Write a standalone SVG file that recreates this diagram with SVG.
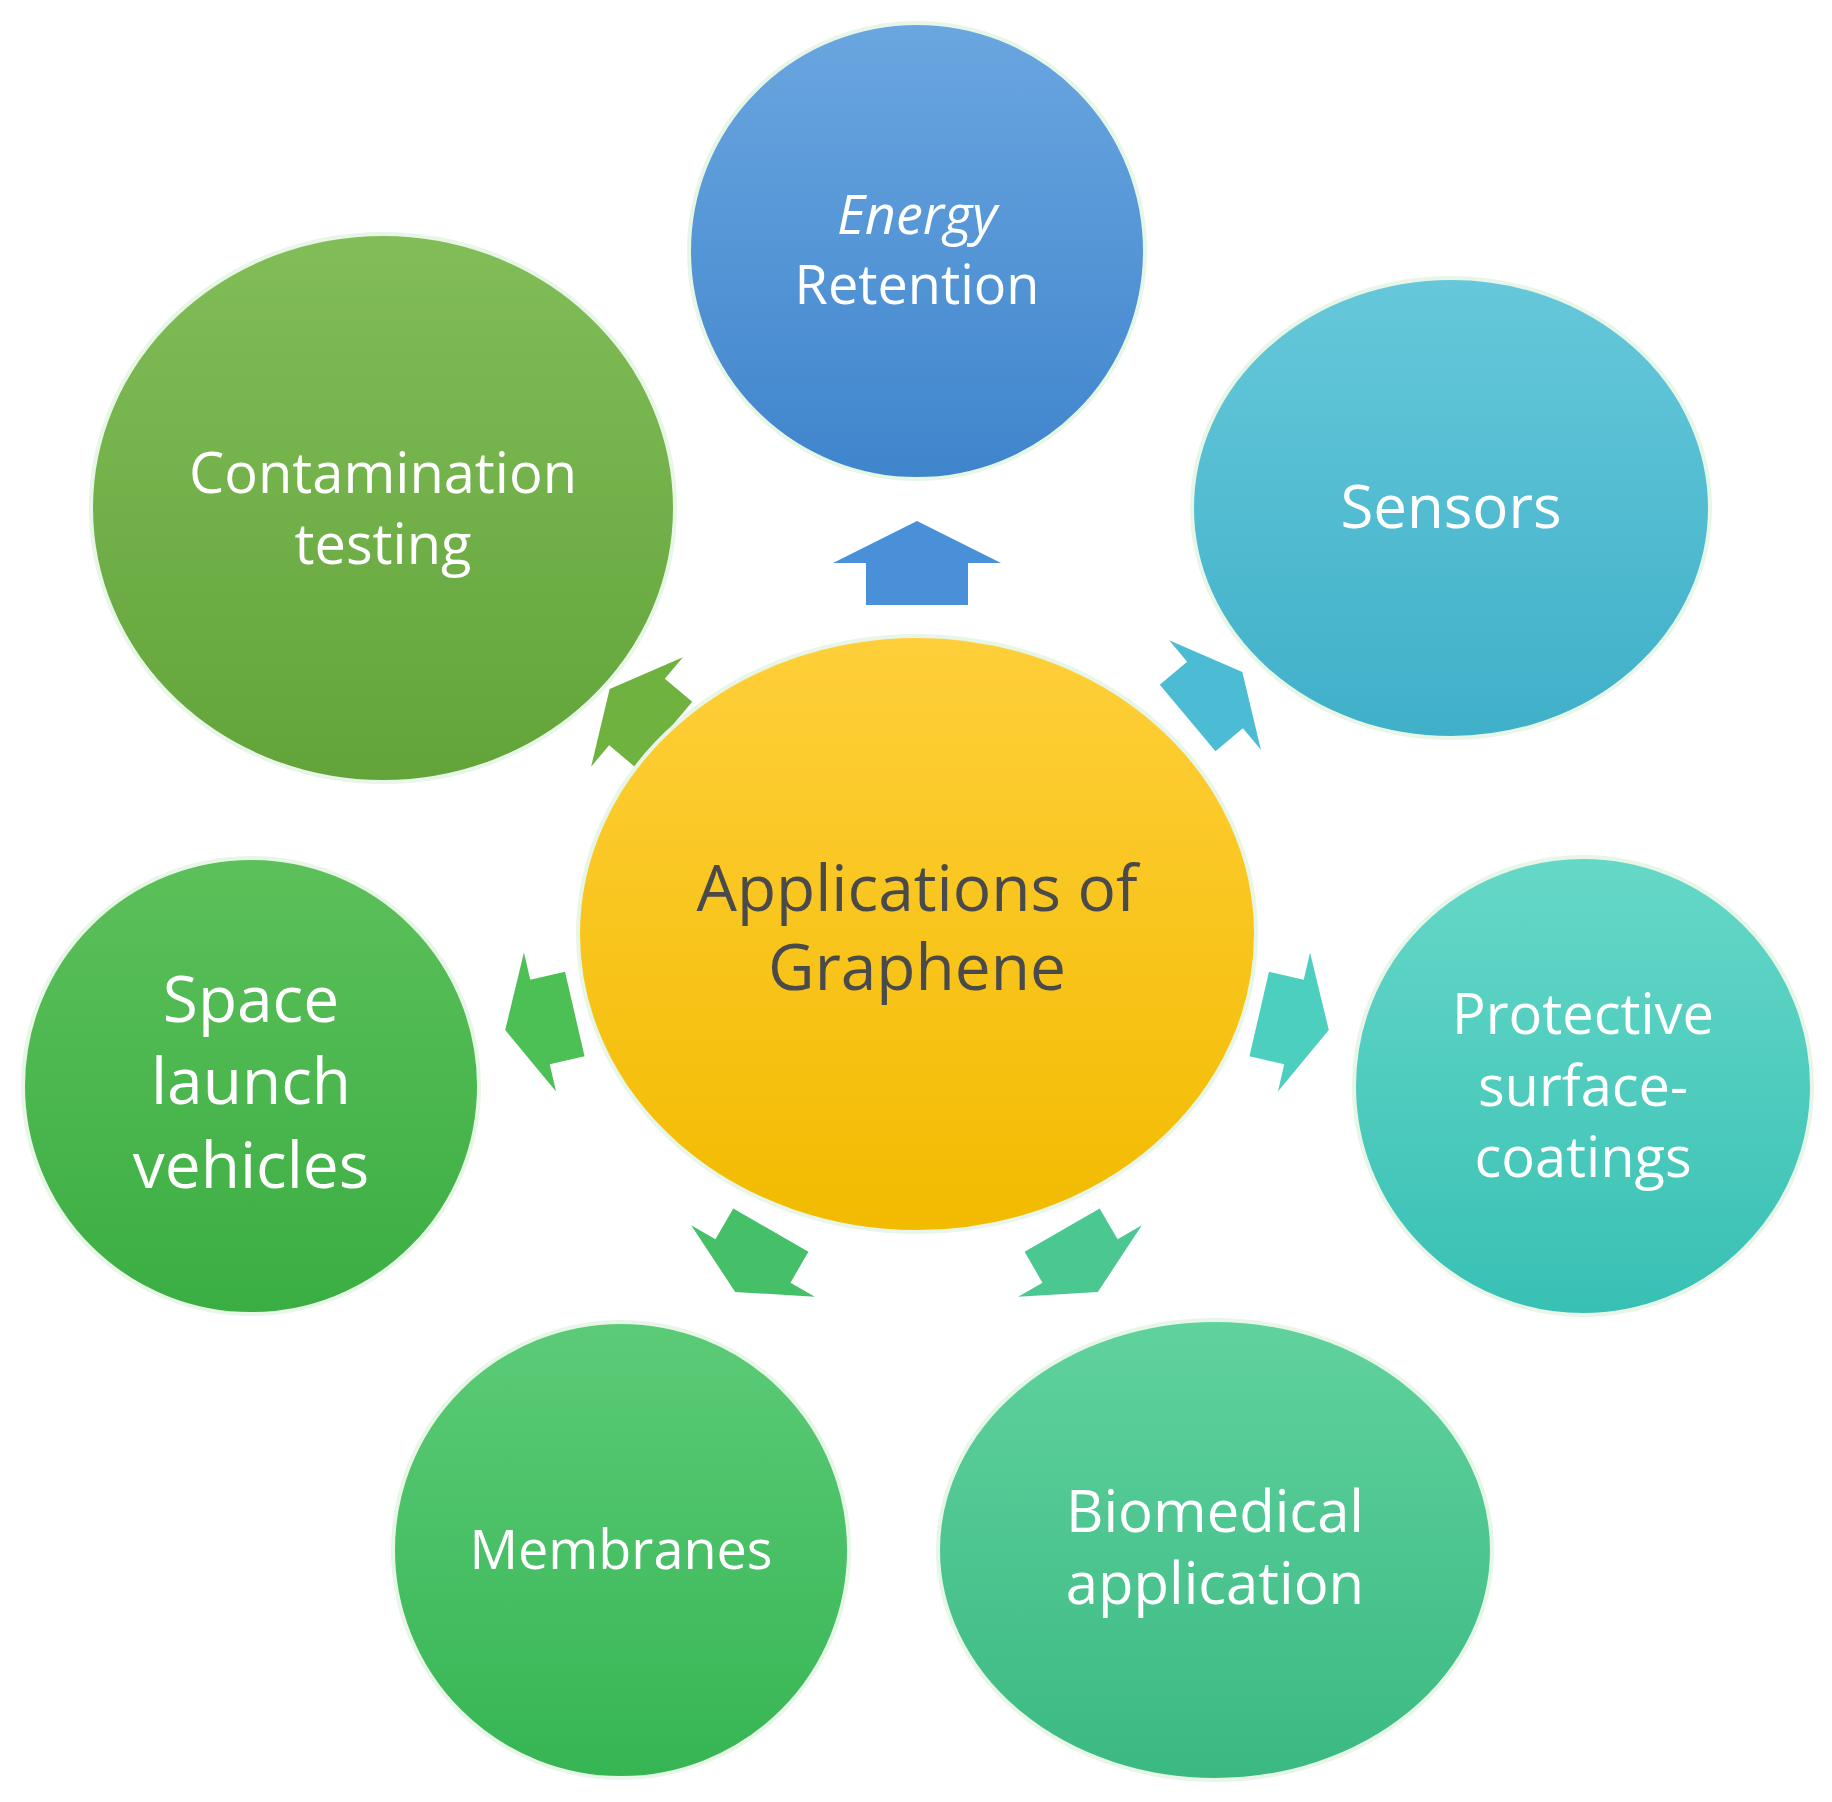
<svg xmlns="http://www.w3.org/2000/svg" width="1832" height="1802" viewBox="0 0 1832 1802">
<defs>
<linearGradient id="gB" x1="0" y1="0" x2="0" y2="1"><stop offset="0" stop-color="#6aa6e0"/><stop offset="1" stop-color="#3f85cc"/></linearGradient>
<linearGradient id="gS" x1="0" y1="0" x2="0" y2="1"><stop offset="0" stop-color="#66c8da"/><stop offset="1" stop-color="#3fb0c9"/></linearGradient>
<linearGradient id="gC" x1="0" y1="0" x2="0" y2="1"><stop offset="0" stop-color="#82bd58"/><stop offset="1" stop-color="#62a43a"/></linearGradient>
<linearGradient id="gY" x1="0" y1="0" x2="0" y2="1"><stop offset="0" stop-color="#ffcf3a"/><stop offset="1" stop-color="#f2bb00"/></linearGradient>
<linearGradient id="gSp" x1="0" y1="0" x2="0" y2="1"><stop offset="0" stop-color="#5dc05a"/><stop offset="1" stop-color="#3aae43"/></linearGradient>
<linearGradient id="gP" x1="0" y1="0" x2="0" y2="1"><stop offset="0" stop-color="#66d8c8"/><stop offset="1" stop-color="#38c0b4"/></linearGradient>
<linearGradient id="gM" x1="0" y1="0" x2="0" y2="1"><stop offset="0" stop-color="#5ccb78"/><stop offset="1" stop-color="#36b553"/></linearGradient>
<linearGradient id="gBi" x1="0" y1="0" x2="0" y2="1"><stop offset="0" stop-color="#60d29e"/><stop offset="1" stop-color="#3bb983"/></linearGradient>
<path id="arr" d="M-42,-51 L0,-51 L0,-84 L42,0 L0,84 L0,51 L-42,51Z"/>
</defs>
<style>
.n{stroke:#e8f6e8;stroke-width:4}
.t{font-family:"Open Sans","Liberation Sans",sans-serif;fill:#ffffff;text-anchor:middle}
.c{fill:#4a4a4a}
</style>
<rect width="1832" height="1802" fill="#ffffff"/>
<g id="connectors">
<use href="#arr" fill="#4a90d9" transform="translate(917,563) rotate(-90)"/>
<use href="#arr" fill="#4cbcd5" transform="translate(1215,695) rotate(-40) scale(0.85)"/>
<use href="#arr" fill="#6fb240" transform="translate(637,712) rotate(-140) scale(0.85)"/>
<use href="#arr" fill="#4cbf55" transform="translate(540,1022) rotate(167) scale(0.85)"/>
<use href="#arr" fill="#4dcfc0" transform="translate(1294,1022) rotate(13) scale(0.85)"/>
<use href="#arr" fill="#45c068" transform="translate(753,1261) rotate(120) scale(0.85)"/>
<use href="#arr" fill="#4bc791" transform="translate(1080,1261) rotate(60) scale(0.85)"/>
</g>
<g id="energy"><circle class="n" cx="917" cy="251" r="228" fill="url(#gB)"/>
<text class="t" x="917" y="234" font-size="54" font-style="italic">Energy</text>
<text class="t" x="917" y="304" font-size="54">Retention</text></g>
<g id="sensors"><ellipse class="n" cx="1451" cy="508" rx="259" ry="230" fill="url(#gS)"/>
<text class="t" x="1451" y="528" font-size="60">Sensors</text></g>
<g id="contamination"><ellipse class="n" cx="383" cy="508" rx="292" ry="274" fill="url(#gC)"/>
<text class="t" x="383" y="493" font-size="56">Contamination</text>
<text class="t" x="383" y="564" font-size="56">testing</text></g>
<g id="center"><ellipse class="n" cx="917" cy="934" rx="339" ry="298" fill="url(#gY)" stroke="#fff3c0"/>
<text class="t c" x="917" y="911" font-size="64">Applications of</text>
<text class="t c" x="917" y="990" font-size="64">Graphene</text></g>
<g id="space"><circle class="n" cx="251" cy="1086" r="228" fill="url(#gSp)"/>
<text class="t" x="251" y="1022" font-size="64">Space</text>
<text class="t" x="251" y="1104" font-size="64">launch</text>
<text class="t" x="251" y="1188" font-size="64">vehicles</text></g>
<g id="protective"><circle class="n" cx="1583" cy="1086" r="229" fill="url(#gP)"/>
<text class="t" x="1583" y="1034" font-size="56">Protective</text>
<text class="t" x="1583" y="1106" font-size="56">surface-</text>
<text class="t" x="1583" y="1177" font-size="56">coatings</text></g>
<g id="membranes"><circle class="n" cx="621" cy="1550" r="228" fill="url(#gM)"/>
<text class="t" x="621" y="1569" font-size="54">Membranes</text></g>
<g id="biomedical"><ellipse class="n" cx="1215" cy="1550" rx="277" ry="230" fill="url(#gBi)"/>
<text class="t" x="1215" y="1532" font-size="58">Biomedical</text>
<text class="t" x="1215" y="1604" font-size="58">application</text></g>
</svg>
